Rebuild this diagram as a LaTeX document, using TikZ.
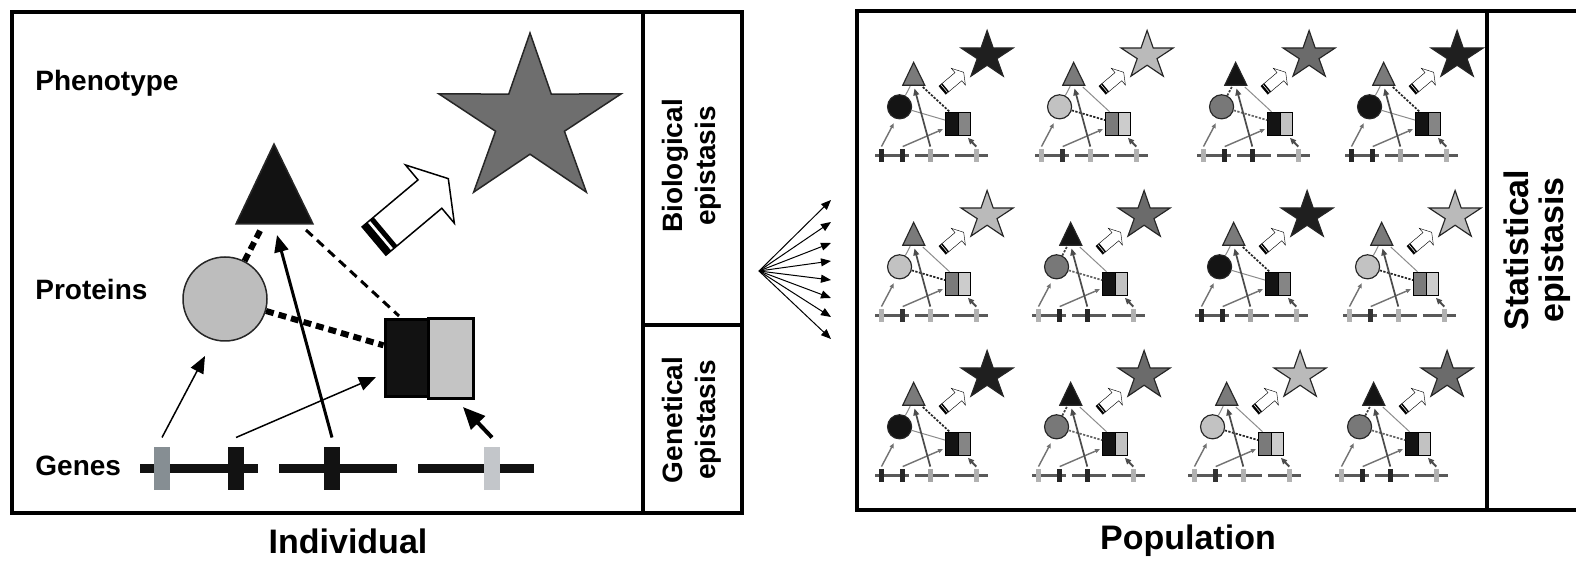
\documentclass[tikz,border=0pt]{standalone}
\usepackage{fontspec}
\setmainfont{Liberation Sans}
\usetikzlibrary{shapes.geometric,arrows.meta,positioning}

% colours of the large diagram
\colorlet{starcol}{black!57}
\colorlet{tricol}{black!93}
\colorlet{circcol}{black!26}
\colorlet{sqlcol}{black!93}
\colorlet{sqrcol}{black!23}
\definecolor{bara}{HTML}{868E93}
\colorlet{barb}{black!93}
\colorlet{barc}{black!93}
\definecolor{bard}{HTML}{C3C6CA}

\tikzset{
  panel/.style={line width=2pt},
  rowlabel/.style={font=\bfseries\fontsize{14}{17}\selectfont, anchor=west, inner sep=0pt},
  bottomlabel/.style={font=\bfseries\fontsize{17}{20}\selectfont, inner sep=0pt},
  sidelabel/.style={font=\bfseries\fontsize{14}{16.5}\selectfont, rotate=90, align=center, inner sep=0pt},
  statlabel/.style={font=\bfseries\fontsize{17}{17.5}\selectfont, rotate=90, align=center, inner sep=0pt},
  rim/.style={draw=black!85, line width=0.75pt},
  strand/.style={draw=black!93, line width=4.5pt},
  genebar/.style={rectangle, minimum width=8pt, minimum height=21.5pt, inner sep=0pt, outer ysep=5pt},
  boldlink/.style={line width=3pt, dash pattern=on 4pt off 2.5pt},
  thinlink/.style={line width=1.5pt, dash pattern=on 4.5pt off 3pt},
  minilink/.style={line width=1.75pt, draw=black!45},
  linkct/.style={boldlink}, linkcs/.style={boldlink}, linkts/.style={thinlink},
  armthin/.style={line width=0.75pt, -{Triangle[length=8.5pt,width=7pt]}},
  armmid/.style={line width=1.5pt, -{Triangle[length=8.5pt,width=7pt]}},
  armthick/.style={line width=2pt, -{Triangle[length=11pt,width=9.5pt]}},
  fanarrow/.style={line width=0.5pt, -{Triangle[length=5pt,width=4pt]}},
  minicell/.style={
    rim/.style={draw=black!85, line width=2pt},
    strand/.style={draw=black!65, line width=4.5pt},
    armthin/.style={draw=black!55, line width=2.5pt, -{Triangle[length=8.5pt,width=7pt]}},
    armmid/.style={draw=black!70, line width=3pt, -{Triangle[length=12pt,width=10pt]}},
    armthick/.style={draw=black!70, line width=3.5pt, -{Triangle[length=11pt,width=9.5pt]}}}
}

% one individual: genes, proteins, phenotype
\newcommand{\epicell}{%
  \draw[strand] (140,469) -- (258,469); % stretches of DNA
  \draw[strand] (279,469) -- (397,469);
  \draw[strand] (418,469) -- (534,469);
  \node[genebar, fill=bara] (gA) at (162,469) {};
  \node[genebar, fill=barb] (gB) at (236,469) {};
  \node[genebar, fill=barc] (gC) at (332,469) {};
  \node[genebar, fill=bard] (gD) at (492,469) {};
  \begin{scope}[shift={(530,121)}, xscale=1.09]
    \node[star, star points=5, star point ratio=2.65, minimum size=88pt, inner sep=0pt, fill=starcol, rim, transform shape] (pheno) at (0,0) {};
  \end{scope}
  \filldraw[fill=tricol, rim] (274,144) -- (313,224) -- (236,224) -- cycle; % triangle protein
  \node[circle, minimum size=42pt, inner sep=0pt, fill=circcol, rim] (circ) at (225,299) {};
  \node[rectangle, minimum width=43.5pt, minimum height=38.5pt, inner sep=0pt, fill=sqlcol, draw=black, line width=1.5pt] (sq) at (428.5,358.5) {};
  \filldraw[fill=sqrcol, draw=black, line width=1.5pt] (sq.north) rectangle (sq.south east);
  \coordinate (triL) at (262,227);
  \coordinate (triR) at (306,230);
  \coordinate (triIn) at (277,235);
  \coordinate (sqTop) at (399,316);
  \coordinate (circIn) at (205,356);
  \coordinate (sqIn) at (376,377);
  \coordinate (sqLow) at (463,407);
  \draw[linkct] (circ) -- (triL); % interactions
  \draw[linkcs] (circ) -- (sq);
  \draw[linkts] (triR) -- (sqTop);
  \draw[armthin] (gA.north) -- (circIn); % expression
  \draw[armthin] (gB.north) -- (sqIn);
  \draw[armmid] (gC.north) -- (triIn);
  \draw[armthick] (gD.north) -- (sqLow);
  \begin{scope}[shift={(374,241)}, rotate=40] % open arrow to phenotype
    \filldraw[fill=white, draw=black, line width=0.75pt] (0,-18.5) -- (73,-18.5) -- (73,-38) -- (97,0) -- (73,38) -- (73,18.5) -- (0,18.5) -- cycle;
    \fill[black] (0,-18.5) rectangle (7,18.5);
    \fill[black] (10,-18.5) rectangle (15,18.5);
  \end{scope}
}

\newcommand{\kindA}{%
  \colorlet{starcol}{black!88}\colorlet{tricol}{black!52}\colorlet{circcol}{black!92}%
  \colorlet{sqlcol}{black!92}\colorlet{sqrcol}{black!48}%
  \colorlet{bara}{black!85}\colorlet{barb}{black!85}\colorlet{barc}{black!35}\colorlet{bard}{black!30}%
  \tikzset{linkct/.style={minilink}, linkcs/.style={minilink}, linkts/.style={boldlink, draw=black!85}}}
\newcommand{\kindB}{%
  \colorlet{starcol}{black!27}\colorlet{tricol}{black!52}\colorlet{circcol}{black!24}%
  \colorlet{sqlcol}{black!52}\colorlet{sqrcol}{black!20}%
  \colorlet{bara}{black!30}\colorlet{barb}{black!80}\colorlet{barc}{black!30}\colorlet{bard}{black!30}%
  \tikzset{linkct/.style={minilink}, linkcs/.style={boldlink, draw=black!85}, linkts/.style={minilink}}}
\newcommand{\kindC}{%
  \colorlet{starcol}{black!58}\colorlet{tricol}{black!92}\colorlet{circcol}{black!53}%
  \colorlet{sqlcol}{black!92}\colorlet{sqrcol}{black!24}%
  \colorlet{bara}{black!30}\colorlet{barb}{black!85}\colorlet{barc}{black!85}\colorlet{bard}{black!30}%
  \tikzset{linkct/.style={boldlink, draw=black!75}, linkcs/.style={boldlink, draw=black!60}, linkts/.style={minilink}}}

\begin{document}
\begin{tikzpicture}[x=0.5pt, y=-0.5pt]
  \useasboundingbox (0,0) rectangle (1576,561);

  % individual
  \draw[panel] (12,12) rectangle (742,513);
  \draw[panel] (643,12) -- (643,513);
  \draw[panel] (643,325) -- (742,325);
  \node[rowlabel] (phen) at (35,83) {Phenotype};
  \node[rowlabel] (prot) at (35,289) {Proteins};
  \node[rowlabel] (gene) at (35,466) {Genes};
  \epicell
  \node[sidelabel] (bio) at (692,166) {Biological\\epistasis};
  \node[sidelabel] (genet) at (692,420) {Genetical\\epistasis};
  \node[bottomlabel] (indiv) at (348,541) {Individual};

  % fan out to the population
  \coordinate (fan) at (759,271);
  \foreach \ty [count=\i] in {200,222,243,261,280,298,317,339}{
    \coordinate (fan\i) at (831,\ty);
    \draw[fanarrow] (fan) -- (fan\i);
  }

  % population
  \draw[panel] (1580,11) -- (857,11) -- (857,510) -- (1580,510);
  \draw[panel] (1487,11) -- (1487,510);
  \foreach \ox/\oy/\kd in {835/21/A, 995/21/B, 1157/21/C, 1305/21/A,
                           835/181/B, 992/181/C, 1155/181/A, 1303/181/B,
                           835/341/A, 992/341/C, 1148/341/B, 1295/341/C}{
    \begin{scope}[transform canvas={shift={(\ox,\oy)}, scale=0.287}, minicell]
      \csname kind\kd\endcsname
      \epicell
    \end{scope}
  }
  \node[statlabel] (stat) at (1537,250) {Statistical\\epistasis};
  \node[bottomlabel] (popul) at (1188,541) {Population};
\end{tikzpicture}
\end{document}
